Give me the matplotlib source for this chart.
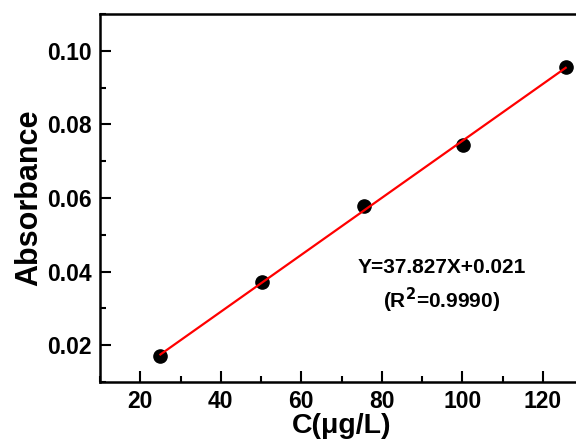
import numpy as np
import matplotlib
matplotlib.use('Agg')
import matplotlib.pyplot as plt
from matplotlib.ticker import MultipleLocator

plt.rcParams['font.family'] = ['Liberation Sans', 'DejaVu Sans']
plt.rcParams['font.weight'] = 'bold'

conc = [25, 50.3, 75.6, 100.1, 125.7]
absorb = [0.0170, 0.0373, 0.0578, 0.0744, 0.0956]
eq_text = 'Y=37.827X+0.021'
r2_text = '(R$^{\\mathbf{2}}$=0.9990)'

fig = plt.figure(figsize=(5.76, 4.48), dpi=100)
ax = fig.add_axes([100/576, 66/448, 483/576, 368/448])

slope, icpt = np.polyfit(conc, absorb, 1)
xfit = np.array([conc[0], conc[-1]])
ax.plot(conc, absorb, 'o', color='black', markersize=9.5, zorder=2)
ax.plot(xfit, slope * xfit + icpt, color='red', linewidth=1.6, zorder=3)

ax.set_xlim(10, 130)
ax.set_ylim(0.01, 0.11)
ax.xaxis.set_major_locator(MultipleLocator(20))
ax.xaxis.set_minor_locator(MultipleLocator(10))
ax.yaxis.set_major_locator(MultipleLocator(0.02))
ax.yaxis.set_minor_locator(MultipleLocator(0.01))
ax.yaxis.set_major_formatter(plt.FormatStrFormatter('%.2f'))
ax.tick_params(which='both', direction='in', width=1.5, labelsize=16.5, pad=6)
ax.tick_params(which='major', length=8)
ax.tick_params(which='minor', length=4.5)
for s in ax.spines.values():
    s.set_linewidth(1.8)

ax.set_xlabel('C(\u03bcg/L)', fontsize=20.5, fontweight='bold', labelpad=0)
ax.set_ylabel('Absorbance', fontsize=22, fontweight='bold', labelpad=2)

ax.text(442 / 576, 1 - 267 / 448, eq_text, transform=fig.transFigure,
        ha='center', va='center', fontsize=15, fontweight='bold')
ax.text(442 / 576, 1 - 300 / 448, r2_text, transform=fig.transFigure,
        ha='center', va='center', fontsize=15, fontweight='bold')

fig.savefig('out.png', dpi=100)
